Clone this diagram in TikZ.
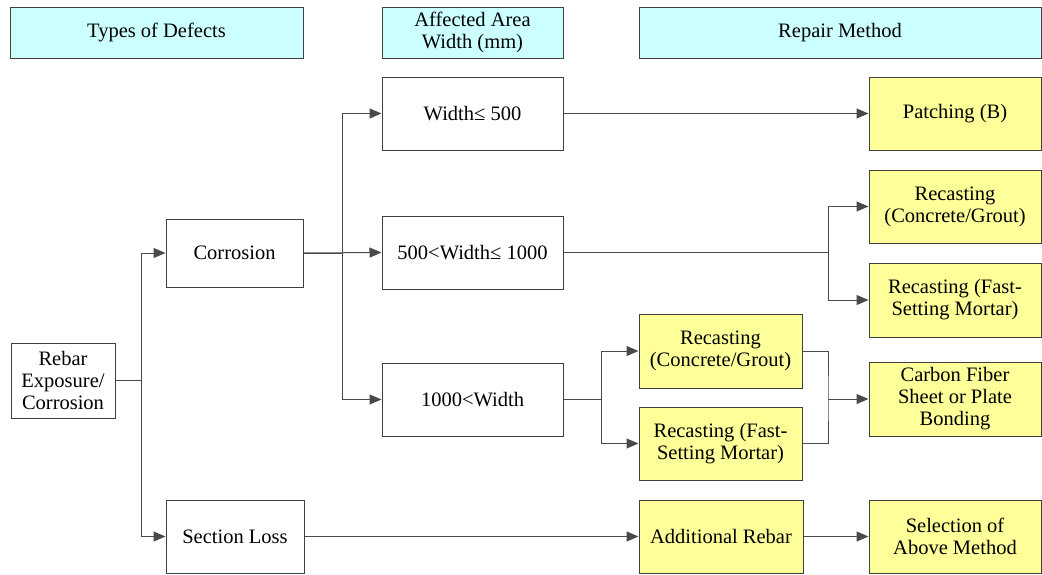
\documentclass[tikz,border=0pt]{standalone}
\usepackage{fontspec}
\newfontfamily\timesfont{Liberation Serif}
\usetikzlibrary{arrows.meta}
\definecolor{edge}{HTML}{404040}
\definecolor{wire}{HTML}{4A4A4A}
\definecolor{headfill}{HTML}{CCFFFF}
\definecolor{repfill}{HTML}{FFFF99}
\begin{document}
\begin{tikzpicture}[x=1pt,y=-1pt,
  every node/.style={font=\timesfont\fontsize{20.5}{22}\selectfont, align=center, inner sep=2pt},
  box/.style={draw=edge, line width=1pt, fill=white},
  headbox/.style={box, fill=headfill, minimum height=51pt},
  repbox/.style={box, fill=repfill},
  arr/.style={draw=wire, line width=1pt, -{Triangle[length=12pt,width=10pt]}},
  ln/.style={draw=wire, line width=1pt}]
\useasboundingbox (0,0) rectangle (1042,574);

% column headers
\node[headbox, minimum width=293pt] (h1) at (156.5,32.5) {Types of Defects};
\node[headbox, minimum width=181pt] (h2) at (472.5,32.5) {Affected Area\\Width (mm)};
\node[headbox, minimum width=402pt] (h3) at (840,32.5) {Repair Method};

% defect types
\node[box, minimum width=104pt, minimum height=75pt] (rebar) at (63,380.5) {Rebar\\Exposure/\\Corrosion};
\node[box, minimum width=137pt, minimum height=68pt] (corr) at (234.5,253) {Corrosion};
\node[box, minimum width=138pt, minimum height=73pt] (sl) at (235,536.5) {Section Loss};

% affected width ranges
\node[box, minimum width=181pt, minimum height=73pt] (w1) at (472.5,113.5) {Width≤ 500};
\node[box, minimum width=181pt, minimum height=73pt] (w2) at (472.5,252.5) {500<Width≤ 1000};
\node[box, minimum width=181pt, minimum height=73pt] (w3) at (472.5,399.5) {1000<Width};

% repair methods
\node[repbox, minimum width=172pt, minimum height=73pt] (patch) at (955,113.5) {Patching (B)};
\node[repbox, minimum width=172pt, minimum height=73pt] (rc1) at (955,206.5) {Recasting\\(Concrete/Grout)};
\node[repbox, minimum width=172pt, minimum height=74pt] (rf1) at (955,300) {Recasting (Fast-\\Setting Mortar)};
\node[repbox, minimum width=172pt, minimum height=74pt] (cf) at (955,399) {Carbon Fiber\\Sheet or Plate\\Bonding};
\node[repbox, minimum width=163pt, minimum height=74pt] (rc2) at (720.5,351) {Recasting\\(Concrete/Grout)};
\node[repbox, minimum width=163pt, minimum height=73pt] (rf2) at (720.5,443.5) {Recasting (Fast-\\Setting Mortar)};
\node[repbox, minimum width=164pt, minimum height=73pt] (ar) at (721,536.5) {Additional Rebar};
\node[repbox, minimum width=172pt, minimum height=73pt] (sel) at (955,536.5) {Selection of\\Above Method};

% connectors
\draw[arr] (rebar.east) -- ++(26,0) |- (corr.west);
\draw[arr] (rebar.east) -- ++(26,0) |- (sl.west);

\draw[arr] (corr.east) -- (w2.west);
\draw[arr] (corr.east) -- ++(39,0) |- (w1.west);
\draw[arr] (corr.east) -- ++(39,0) |- (w3.west);

\draw[arr] (w1.east) -- (patch.west);

\draw[arr] (w2.east) -- ++(265,0) |- (rc1.west);
\draw[arr] (w2.east) -- ++(265,0) |- (rf1.west);

\draw[arr] (w3.east) -- ++(38,0) |- (rc2.west);
\draw[arr] (w3.east) -- ++(38,0) |- (rf2.west);

\coordinate (mrg) at (828,399);
\draw[ln] (rc2.east) -| (mrg) |- (rf2.east);
\draw[arr] (mrg) -- (cf.west);

\draw[arr] (sl.east) -- (ar.west);
\draw[arr] (ar.east) -- (sel.west);
\end{tikzpicture}
\end{document}
